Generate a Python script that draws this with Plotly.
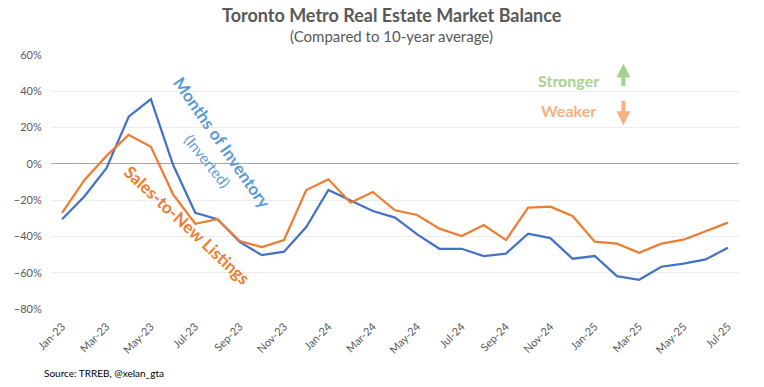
import plotly.graph_objects as go

months = ["Jan-23","Feb-23","Mar-23","Apr-23","May-23","Jun-23","Jul-23","Aug-23","Sep-23","Oct-23","Nov-23","Dec-23",
          "Jan-24","Feb-24","Mar-24","Apr-24","May-24","Jun-24","Jul-24","Aug-24","Sep-24","Oct-24","Nov-24","Dec-24",
          "Jan-25","Feb-25","Mar-25","Apr-25","May-25","Jun-25","Jul-25"]
tick_labels = months[::2]

months_of_inventory_inverted = [-30.5, -18, -2.4, 26, 35.7, -0.5, -27, -30.5, -43, -50.3, -48.4, -34.8,
                                -14.4, -20, -26, -29.6, -38.9, -46.8, -46.8, -50.8, -49.5, -38.5, -40.9, -52.3,
                                -50.8, -61.9, -63.9, -56.7, -55, -52.7, -46.2]
sales_to_new_listings = [-27, -9, 4.4, 16, 9.4, -16.8, -33, -30.5, -42.5, -45.9, -42, -14.4,
                         -8.5, -21.4, -15.5, -25.6, -28.2, -35.7, -39.8, -33.7, -42, -24.1, -23.6, -28.7,
                         -42.9, -44, -49, -44, -41.8, -37, -32.4]

BLUE = "#4472C4"
ORANGE = "#ED7D31"
FONT = "Lato"
GRAY = "#595959"

fig = go.Figure()
fig.add_trace(go.Scatter(x=months, y=months_of_inventory_inverted, mode="lines",
                         line=dict(color=BLUE, width=2.25), name="Months of Inventory (Inverted)"))
fig.add_trace(go.Scatter(x=months, y=sales_to_new_listings, mode="lines",
                         line=dict(color=ORANGE, width=2.25), name="Sales-to-New Listings"))

C = dict(xanchor="center", yanchor="middle", showarrow=False, xref="paper", yref="paper")
ann = []
ann.append(dict(text="<b>Toronto Metro Real Estate Market Balance</b>", x=0.495, y=1.158,
                font=dict(family=FONT, size=18, color=GRAY), **C))
ann.append(dict(text="(Compared to 10-year average)", x=0.495, y=1.073,
                font=dict(family=FONT, size=15, color=GRAY), **C))
ann.append(dict(text="<b>Months of Inventory</b>", x=0.249, y=0.657, textangle=55,
                font=dict(family=FONT, size=17, color="#5B9BD5"), **C))
ann.append(dict(text="(Inverted)", x=0.2276, y=0.582, textangle=51,
                font=dict(family=FONT, size=15, color="#5B9BD5"), **C))
ann.append(dict(text="<b>Sales-to-New Listings</b>", x=0.197, y=0.331, textangle=43,
                font=dict(family=FONT, size=17, color=ORANGE), **C))
ann.append(dict(text="<b>Stronger</b>", x=0.752, y=0.898,
                font=dict(family=FONT, size=16, color="#A9D18E"), **C))
ann.append(dict(text="<b>Weaker</b>", x=0.752, y=0.783,
                font=dict(family=FONT, size=16, color="#F4B183"), **C))
ann.append(dict(text="", xref="paper", yref="paper", x=0.832, y=0.967, ax=0, ay=24,
                showarrow=True, arrowhead=2, arrowsize=0.7, arrowwidth=4, arrowcolor="#A9D18E"))
ann.append(dict(text="", xref="paper", yref="paper", x=0.832, y=0.7236, ax=0, ay=-26,
                showarrow=True, arrowhead=2, arrowsize=0.7, arrowwidth=4, arrowcolor="#F4B183"))
ann.append(dict(text="Source: TRREB, @xelan_gta", xref="paper", yref="paper", x=-0.013, y=-0.252,
                xanchor="left", yanchor="middle", showarrow=False,
                font=dict(family=FONT, size=10, color="#000000")))

fig.update_layout(
    width=764, height=387,
    margin=dict(l=50.6, r=25.4, t=54.7, b=78, autoexpand=False),
    paper_bgcolor="white", plot_bgcolor="white",
    showlegend=False,
    annotations=ann,
    font=dict(family=FONT, color=GRAY),
)
fig.update_xaxes(type="category", range=[-0.5, len(months) - 0.5], tickmode="array",
                 tickvals=tick_labels, ticktext=tick_labels,
                 tickangle=-45, tickfont=dict(size=11, color=GRAY), showgrid=False, showline=False,
                 ticks="outside", ticklen=6, tickcolor="rgba(0,0,0,0)", zeroline=False)
fig.update_yaxes(range=[-80, 60], dtick=20, ticksuffix="%", tickfont=dict(size=11, color=GRAY),
                 showgrid=True, gridcolor="#ECECEC", gridwidth=1, zeroline=True, zerolinecolor="#A6A6A6",
                 zerolinewidth=1.2, showline=False, ticks="outside", ticklen=6, tickcolor="rgba(0,0,0,0)")

fig.write_html("out.html", config={"displayModeBar": False},
               post_script="document.body.style.margin='0';")
